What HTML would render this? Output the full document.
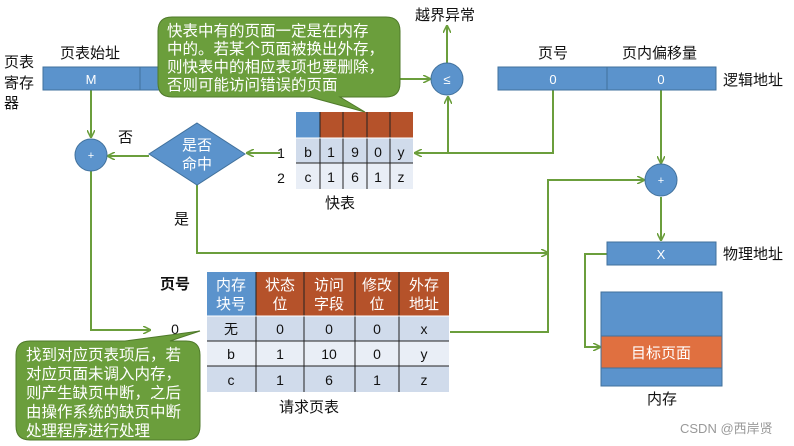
<!DOCTYPE html>
<html><head><meta charset="utf-8"><style>
body{margin:0;background:#fff}
svg{display:block;font-family:"Liberation Sans","Noto Sans CJK SC",sans-serif}
</style></head><body>
<svg width="794" height="446" viewBox="0 0 794 446" xmlns="http://www.w3.org/2000/svg">
<defs>
<marker id="a" markerWidth="8" markerHeight="8" refX="7" refY="4" orient="auto" markerUnits="userSpaceOnUse">
<path d="M0,0 L8,4 L0,8" fill="none" stroke="#6b9e3c" stroke-width="1.6"/></marker>
</defs>
<g fill="none" stroke="#6b9e3c" stroke-width="2">
<path d="M150,79 H430" marker-end="url(#a)"/>
<path d="M447,63 V26" marker-end="url(#a)"/>
<path d="M553,90 V153 H415" marker-end="url(#a)"/>
<path d="M448,152 V97" marker-end="url(#a)"/>
<path d="M280,153 H247" marker-end="url(#a)"/>
<path d="M149,156 H108" marker-end="url(#a)"/>
<path d="M91,90 V137" marker-end="url(#a)"/>
<path d="M91,171 V330 H150" marker-end="url(#a)"/>
<path d="M197,184 V253 H548" marker-end="url(#a)"/>
<path d="M450,332 H548 V180 H644" marker-end="url(#a)"/>
<path d="M661,90 V163" marker-end="url(#a)"/>
<path d="M661,197 V240" marker-end="url(#a)"/>
<path d="M607,254 H585 V347 H600" marker-end="url(#a)"/>
</g>
<g stroke="#41719c" stroke-width="1" fill="#5b93cc">
<rect x="43" y="67" width="120" height="23"/>
<line x1="140" y1="67" x2="140" y2="90"/>
<rect x="498" y="67" width="218" height="23"/>
<line x1="607" y1="67" x2="607" y2="90"/>
<rect x="607" y="242" width="109" height="23"/>
<circle cx="447" cy="79" r="16"/>
<circle cx="91" cy="155" r="16"/>
<circle cx="661" cy="180" r="16"/>
<polygon points="197,123 245,154 197,185 149,154"/>
<rect x="601" y="292" width="121" height="94"/>
</g>
<rect x="601" y="336" width="121" height="32" fill="#e07040" stroke="#41719c"/>
<g fill="#fff" font-size="13" text-anchor="middle">
<text x="91" y="84">M</text>
<text x="553" y="84">0</text>
<text x="661" y="84">0</text>
<text x="661" y="259">X</text>
<text x="447" y="84">≤</text>
<text x="91" y="159" font-size="11">+</text>
<text x="661" y="184" font-size="11">+</text>
<text x="197" y="150" font-size="15">是否</text>
<text x="197" y="169" font-size="15">命中</text>
<text x="661" y="358" font-size="15">目标页面</text>
</g>
<!-- fast table -->
<rect x="296" y="112" width="24" height="26" fill="#5b93cc"/>
<rect x="320" y="112" width="93" height="26" fill="#b5522a"/>
<rect x="296" y="138" width="117" height="25" fill="#d0dbeb"/>
<rect x="296" y="163" width="117" height="26" fill="#e9eef6"/>
<g stroke="#222" stroke-width="1">
<line x1="320" y1="112" x2="320" y2="189"/><line x1="343" y1="112" x2="343" y2="189"/>
<line x1="367" y1="112" x2="367" y2="189"/><line x1="390" y1="112" x2="390" y2="189"/>
<line x1="296" y1="138" x2="413" y2="138" stroke="#fff"/><line x1="296" y1="163" x2="413" y2="163"/>
</g>
<g font-size="14" text-anchor="middle" fill="#111">
<text x="308" y="157">b</text><text x="331" y="157">1</text><text x="355" y="157">9</text><text x="378" y="157">0</text><text x="401" y="157">y</text>
<text x="308" y="182">c</text><text x="331" y="182">1</text><text x="355" y="182">6</text><text x="378" y="182">1</text><text x="401" y="182">z</text>
<text x="281" y="158">1</text><text x="281" y="183">2</text>
</g>
<!-- request table -->
<rect x="207" y="272" width="49" height="44" fill="#5b93cc"/>
<rect x="256" y="272" width="193" height="44" fill="#b5522a"/>
<rect x="207" y="316" width="242" height="25" fill="#d0dbeb"/>
<rect x="207" y="341" width="242" height="25" fill="#e9eef6"/>
<rect x="207" y="366" width="242" height="26" fill="#d0dbeb"/>
<g stroke="#222" stroke-width="1">
<line x1="256" y1="272" x2="256" y2="392"/><line x1="304" y1="272" x2="304" y2="392"/>
<line x1="355" y1="272" x2="355" y2="392"/><line x1="399" y1="272" x2="399" y2="392"/>
<line x1="207" y1="316" x2="449" y2="316" stroke="#fff"/><line x1="207" y1="341" x2="449" y2="341"/><line x1="207" y1="366" x2="449" y2="366"/>
</g>
<g font-size="15" text-anchor="middle" fill="#fff">
<text x="231" y="290">内存</text><text x="231" y="309">块号</text>
<text x="280" y="290">状态</text><text x="280" y="309">位</text>
<text x="329" y="290">访问</text><text x="329" y="309">字段</text>
<text x="377" y="290">修改</text><text x="377" y="309">位</text>
<text x="424" y="290">外存</text><text x="424" y="309">地址</text>
</g>
<g font-size="14" text-anchor="middle" fill="#111">
<text x="231" y="334">无</text><text x="280" y="334">0</text><text x="329" y="334">0</text><text x="377" y="334">0</text><text x="424" y="334">x</text>
<text x="231" y="359">b</text><text x="280" y="359">1</text><text x="329" y="359">10</text><text x="377" y="359">0</text><text x="424" y="359">y</text>
<text x="231" y="385">c</text><text x="280" y="385">1</text><text x="329" y="385">6</text><text x="377" y="385">1</text><text x="424" y="385">z</text>
<text x="175" y="334">0</text>
</g>
<!-- labels -->
<g font-size="15" fill="#111">
<text x="4" y="67">页表</text><text x="4" y="88">寄存</text><text x="4" y="108">器</text>
<text x="60" y="58">页表始址</text>
<text x="415" y="20">越界异常</text>
<text x="538" y="58">页号</text>
<text x="622" y="58">页内偏移量</text>
<text x="723" y="85">逻辑地址</text>
<text x="723" y="259">物理地址</text>
<text x="118" y="142">否</text>
<text x="174" y="224">是</text>
<text x="325" y="208">快表</text>
<text x="160" y="289" font-weight="bold">页号</text>
<text x="279" y="412">请求页表</text>
<text x="647" y="404">内存</text>
</g>
<text x="680" y="433" font-size="13" fill="#999">CSDN @西岸贤</text>
<!-- bubbles -->
<path d="M172,17 H386 Q400,17 400,31 V83 Q400,97 386,97 H340 L365,112 L310,97 H172 Q158,97 158,83 V31 Q158,17 172,17 Z" fill="#6b9e3c" stroke="#4f7a2a"/>
<g font-size="15.5" fill="#fff">
<text x="167" y="36">快表中有的页面一定是在内存</text>
<text x="167" y="54">中的。若某个页面被换出外存，</text>
<text x="167" y="72">则快表中的相应表项也要删除，</text>
<text x="167" y="90">否则可能访问错误的页面</text>
</g>
<path d="M30,341 H125 L200,331 L170,341 H186 Q200,341 200,355 V426 Q200,440 186,440 H30 Q16,440 16,426 V355 Q16,341 30,341 Z" fill="#6b9e3c" stroke="#4f7a2a"/>
<g font-size="15.5" fill="#fff">
<text x="26" y="360">找到对应页表项后，若</text>
<text x="26" y="379">对应页面未调入内存，</text>
<text x="26" y="398">则产生缺页中断，之后</text>
<text x="26" y="417">由操作系统的缺页中断</text>
<text x="26" y="436">处理程序进行处理</text>
</g>
</svg>
</body></html>
